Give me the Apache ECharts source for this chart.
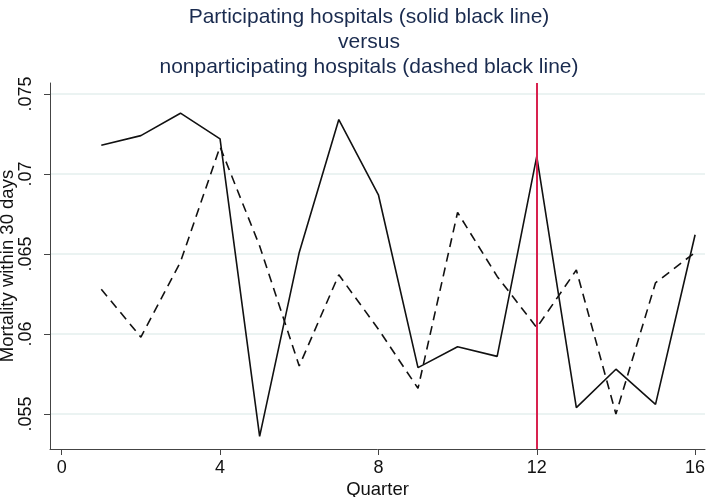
<!DOCTYPE html>
<html>
<head>
<meta charset="utf-8">
<script src="https://cdn.jsdelivr.net/npm/echarts@6/dist/echarts.min.js"></script>
<style>html,body{margin:0;padding:0;background:#fff}#c{width:709px;height:497px}</style>
</head>
<body>
<div id="c"></div>
<script>
const quarters = [1,2,3,4,5,6,7,8,9,10,11,12,13,14,15,16];
const participating = [0.0718,0.0724,0.0738,0.0722,0.0536,0.0651,0.0734,0.0687,0.0579,0.0592,0.0586,0.0711,0.0554,0.0578,0.0556,0.0662];
const nonparticipating = [0.0628,0.0598,0.0645,0.0717,0.0655,0.0580,0.0637,0.0603,0.0566,0.0676,0.0636,0.0604,0.0640,0.0550,0.0632,0.0651];
const xTicks = [0,4,8,12,16];
const yTicks = [0.055,0.06,0.065,0.07,0.075];
const yTickLabels = ['.055','.06','.065','.07','.075'];
const interventionQuarter = 12;
const titleText = 'Participating hospitals (solid black line)\nversus\nnonparticipating hospitals (dashed black line)';

const chart = echarts.init(document.getElementById('c'), null, {renderer:'canvas'});
const font = 'Liberation Sans, Arial, sans-serif';
const axisColor = '#444';
chart.setOption({
  animation: false,
  backgroundColor: '#fff',
  title: {
    text: titleText,
    left: 364, top: 0, textAlign: 'center',
    textStyle: {fontFamily: font, fontSize: 21, fontWeight: 'normal', color: '#1a2b4f', lineHeight: 25}
  },
  grid: {left: 50, right: 4, top: 83, bottom: 48, containLabel: false, outerBoundsMode: 'none'},
  xAxis: {
    type: 'value', min: -0.2956, max: 16.25,
    name: 'Quarter', nameLocation: 'middle', nameGap: 31, nameMoveOverlap: false,
    nameTextStyle: {fontFamily: font, fontSize: 18.5, color: '#111'},
    axisLine: {show: true, onZero: false, lineStyle: {color: axisColor, width: 1}},
    axisTick: {show: true, length: 6, customValues: xTicks, lineStyle: {color: axisColor}},
    axisLabel: {customValues: xTicks, fontFamily: font, fontSize: 18, color: '#111', margin: 10},
    splitLine: {show: false}
  },
  yAxis: {
    type: 'value', min: 0.0528125, max: 0.0756875,
    name: 'Mortality within 30 days', nameLocation: 'middle', nameGap: 33, nameRotate: 90, nameMoveOverlap: false,
    nameTextStyle: {fontFamily: font, fontSize: 18.5, color: '#111'},
    axisLine: {show: true, onZero: false, lineStyle: {color: axisColor, width: 1}},
    axisTick: {show: true, length: 6, customValues: yTicks, lineStyle: {color: axisColor}},
    axisLabel: {customValues: yTicks, rotate: 90, fontFamily: font, fontSize: 18, color: '#111', margin: 15,
      formatter: v => { const i = yTicks.findIndex(t => Math.abs(t - v) < 1e-9); return i >= 0 ? yTickLabels[i] : ''; }},
    splitLine: {show: true, customValues: yTicks, lineStyle: {color: '#e4efee', width: 1.5}}
  },
  series: [
    {
      type: 'line', name: 'Participating', data: quarters.map((q,i) => [q, participating[i]]),
      showSymbol: false, symbol: 'none', lineStyle: {color: '#111', width: 1.6}, z: 3,
      markLine: {silent: true, symbol: ['none','none'], label: {show: false},
        lineStyle: {color: '#d8224f', width: 2, type: 'solid'},
        data: [{xAxis: interventionQuarter}]}
    },
    {
      type: 'line', name: 'Nonparticipating', data: quarters.map((q,i) => [q, nonparticipating[i]]),
      showSymbol: false, symbol: 'none', lineStyle: {color: '#111', width: 1.6, type: [9,6]}, z: 3
    }
  ]
});
</script>
</body>
</html>
